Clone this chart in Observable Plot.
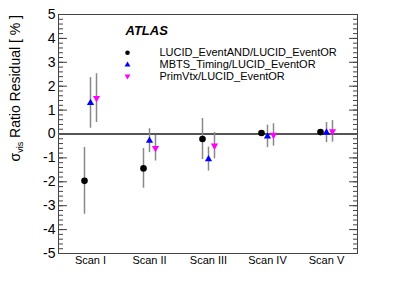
<!DOCTYPE html>
<html><head><meta charset="utf-8">
<script src="https://cdn.jsdelivr.net/npm/d3@7"></script>
<script src="https://cdn.jsdelivr.net/npm/@observablehq/plot@0.6"></script>
<style>body{margin:0;background:#fff;} svg{font-family:"Liberation Sans",Arial,sans-serif;}</style>
</head><body><div id="chart"></div>
<script>
const scans = ["Scan I","Scan II","Scan III","Scan IV","Scan V"];
const seriesNames = ["LUCID_EventAND/LUCID_EventOR","MBTS_Timing/LUCID_EventOR","PrimVtx/LUCID_EventOR"];
const lucidVal = [-1.96,-1.44,-0.21,0.04,0.08];
const lucidErr = [1.40,0.83,0.86,0.0,0.0];
const mbtsVal = [1.30,-0.28,-1.05,-0.10,0.06];
const mbtsErr = [1.06,0.50,0.50,0.47,0.42];
const primVal = [1.50,-0.59,-0.49,-0.04,0.11];
const primErr = [1.02,0.54,0.55,0.47,0.45];
const yTicks = [-5,-4,-3,-2,-1,0,1,2,3,4,5];
const yMinor = d3.range(-25,26).map(d=>d/5);

const mk = (vals, errs) => scans.map((s,i)=>({scan:s, v:vals[i], e:errs[i]}));
const lucid = mk(lucidVal, lucidErr), mbts = mk(mbtsVal, mbtsErr), prim = mk(primVal, primErr);

const errBar = (data, dx, stroke) => Plot.ruleX(data.filter(d=>d.e>0), {x:"scan", y1:d=>d.v-d.e, y2:d=>d.v+d.e, dx, stroke, strokeWidth:1.5});

const chart = Plot.plot({
  width:415, height:298,
  marginLeft:58, marginRight:58, marginTop:14, marginBottom:45,
  style:{fontFamily:"Liberation Sans, Arial, sans-serif", background:"#fff"},
  x:{type:"point", domain:scans, padding:0.5, label:null},
  y:{domain:[-5,5], label:null},
  marks:[
    Plot.axisY({ticks:yMinor, tickSize:-5, text:null, stroke:"#444", anchor:"left", label:null}),
    Plot.axisY({ticks:yTicks, tickSize:-9, stroke:"#444", anchor:"left", tickPadding:12, fontSize:14, tickFormat:d=>String(d), label:null, fill:"#000"}),
    Plot.axisY({ticks:yMinor, tickSize:-5, text:null, stroke:"#444", anchor:"right", label:null}),
    Plot.axisY({ticks:yTicks, tickSize:-9, text:null, stroke:"#444", anchor:"right", label:null}),
    Plot.axisX({tickSize:0, tickPadding:3, fontSize:11, label:null, fill:"#000"}),
    Plot.frame({stroke:"#444"}),
    Plot.ruleY([0], {stroke:"#555", strokeWidth:2}),
    errBar(lucid, -6, "#888"),
    errBar(mbts, 0, "#888"),
    errBar(prim, 6, "#888"),
    Plot.dot(lucid, {x:"scan", y:"v", dx:-6, r:3.3, fill:"black", symbol:"circle"}),
    Plot.dot(mbts, {x:"scan", y:"v", dx:0, r:2.7, fill:"#0000ff", symbol:"triangle"}),
    Plot.dot(prim, {x:"scan", y:"v", dx:6, r:2.7, fill:"#ff00ff", symbol:"triangle", rotate:180}),
    // legend
    Plot.text(["ATLAS"], {frameAnchor:"top-left", dx:67, dy:16.5, text:d=>d, textAnchor:"start", lineAnchor:"middle", fontSize:13, fontWeight:"bold", fontStyle:"italic", fill:"#000"}),
    Plot.dot([0], {frameAnchor:"top-left", dx:69, dy:38.3, r:2.3, fill:"black", symbol:"circle"}),
    Plot.dot([0], {frameAnchor:"top-left", dx:69, dy:50.3, r:2.2, fill:"#0000ff", symbol:"triangle"}),
    Plot.dot([0], {frameAnchor:"top-left", dx:69, dy:61.7, r:2.2, fill:"#ff00ff", symbol:"triangle", rotate:180}),
    Plot.text([seriesNames[0]], {frameAnchor:"top-left", dx:101, dy:38.3, text:d=>d, textAnchor:"start", lineAnchor:"middle", fontSize:11, fill:"#000"}),
    Plot.text([seriesNames[1]], {frameAnchor:"top-left", dx:101, dy:50.3, text:d=>d, textAnchor:"start", lineAnchor:"middle", fontSize:11, fill:"#000"}),
    Plot.text([seriesNames[2]], {frameAnchor:"top-left", dx:101, dy:61.7, text:d=>d, textAnchor:"start", lineAnchor:"middle", fontSize:11, fill:"#000"})
  ]
});
document.getElementById("chart").appendChild(chart);
const svg = d3.select(chart);
const t = svg.append("text").attr("transform","translate(20,15) rotate(-90)").attr("text-anchor","end")
  .attr("font-size",14).attr("fill","#000").style("font-family","Liberation Sans, Arial, sans-serif");
t.append("tspan").text("σ");
t.append("tspan").attr("font-size",9).attr("dy",3).text("vis");
t.append("tspan").attr("dy",-3).text(" Ratio Residual [ % ]");
</script></body></html>
